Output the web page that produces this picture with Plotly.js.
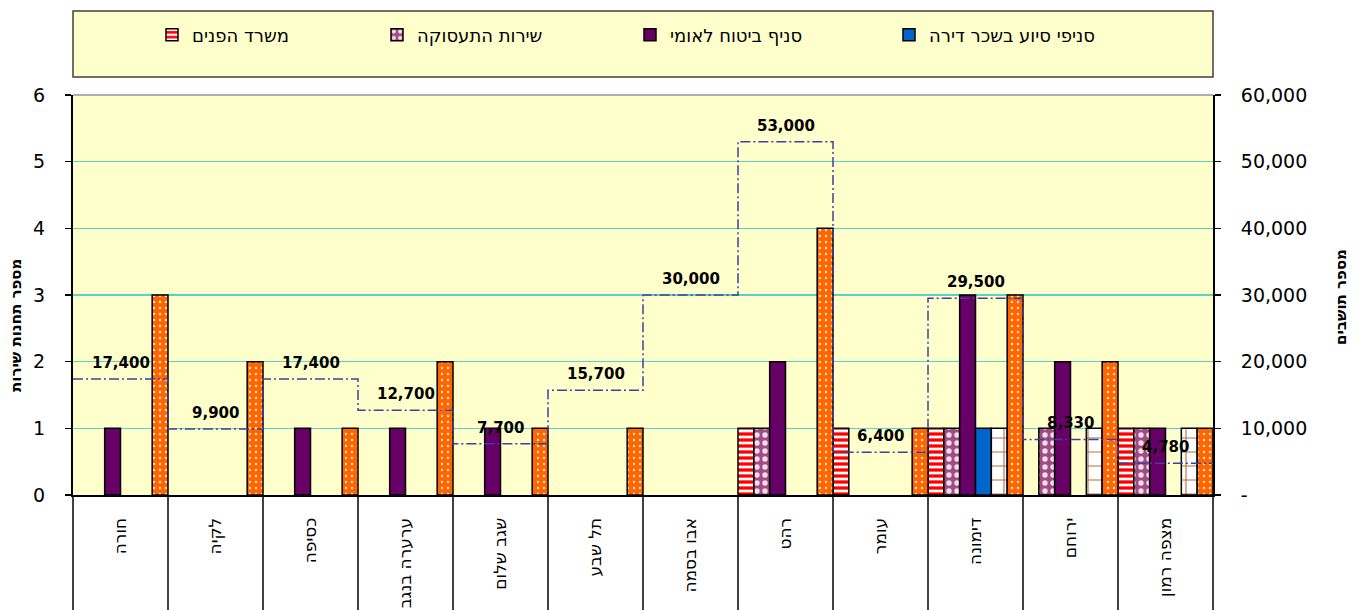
<!DOCTYPE html>
<html><head><meta charset="utf-8">
<script src="https://cdn.plot.ly/plotly-3.0.1.min.js"></script>
<style>body{margin:0;background:#fff}</style>
</head><body><div id="chart" style="width:1363px;height:610px"></div>
<script>
const towns = ['חורה','לקיה','כסיפה','ערערה בנגב','שגב שלום','תל שבע','אבו בסמה','רהט','עומר','דימונה','ירוחם','מצפה רמון'];
const interiorMinistry  = [null,null,null,null,null,null,null,1,1,1,null,1];
const employmentService = [null,null,null,null,null,null,null,1,null,1,1,1];
const nationalInsurance = [1,null,1,1,1,null,null,2,null,3,2,1];
const rentAssistance    = [null,null,null,null,null,null,null,null,null,1,null,null];
const series5           = [null,null,null,null,null,null,null,null,null,1,1,1];
const series6           = [3,2,1,2,1,1,null,4,1,3,2,1];
const residents = [17400,9900,17400,12700,7700,15700,30000,53000,6400,29500,8330,4780];
const leftTickVals = [0,1,2,3,4,5,6];
const rightTickVals = [0,10000,20000,30000,40000,50000,60000];
const rightTickText = ['-','10,000','20,000','30,000','40,000','50,000','60,000'];
const legendNames = ['משרד הפנים','שירות התעסוקה','סניף ביטוח לאומי','סניפי סיוע בשכר דירה'];

const FONT = 'DejaVu Sans, Arial, sans-serif';
const outline = {color:'#000', width:1.5};
function bar(name, y, color, pattern, legend, show){
  const t = {type:'bar', name:name, x:towns, y:y, legend:legend, showlegend:show,
    marker:{color:color, line:outline}, hoverinfo:'skip'};
  if(pattern) t.marker.pattern = pattern;
  return t;
}
const traces = [
  bar(legendNames[0], interiorMinistry, '#FF0000', {shape:'-', fgcolor:'#FF0000', bgcolor:'#FFFFFF', size:6, solidity:0.55}, 'legend', true),
  bar(legendNames[1], employmentService, '#A04C82', {shape:'.', fgcolor:'#F3DDEB', bgcolor:'#A04C82', size:8, solidity:0.35}, 'legend2', true),
  bar(legendNames[2], nationalInsurance, '#660066', null, 'legend3', true),
  bar(legendNames[3], rentAssistance, '#0066CC', null, 'legend4', true),
  bar('סדרה 5', series5, '#B86B3E', {shape:'+', fgcolor:'#B86B3E', bgcolor:'#FFFFFF', size:14, solidity:0.15}, 'legend', false),
  bar('סדרה 6', series6, '#FF6600', {shape:'.', fgcolor:'#FFE3C8', bgcolor:'#FF6600', size:6, solidity:0.12}, 'legend', false)
];

const stepX = residents.map((_,i)=>i).concat([residents.length]);
const stepY = residents.concat([residents[residents.length-1]]);
traces.push({type:'scatter', mode:'lines', x:stepX, y:stepY, xaxis:'x2', yaxis:'y2',
  line:{shape:'hv', color:'#3F3F9F', width:1.5, dash:'10px,3px,2px,3px'}, showlegend:false, hoverinfo:'skip'});

const annotations = residents.map((v,i)=>({x:i+0.5, y:v, xref:'x2', yref:'y2',
  text:v.toLocaleString('en-US'), showarrow:false, yshift:16,
  font:{family:FONT, size:15, color:'#000', weight:'bold'}}));
annotations.push({xref:'paper', yref:'paper', x:(5-73)/1140, y:(495-326)/400, text:'מספר תחנות שירות',
  textangle:-90, showarrow:false, font:{family:FONT, size:15, color:'#000', weight:'bold'}});
annotations.push({xref:'paper', yref:'paper', x:(1352-73)/1140, y:(495-297)/400, text:'מספר תושבים',
  textangle:-90, showarrow:false, font:{family:FONT, size:15, color:'#000', weight:'bold'}});

const shapes = [{type:'rect', xref:'paper', yref:'paper', x0:0, x1:1, y0:(495-77)/400, y1:(495-11)/400,
  fillcolor:'#FFFFCC', line:{color:'#404040', width:1.5}, layer:'below'},
  {type:'line', xref:'paper', yref:'paper', x0:0, x1:1, y0:1, y1:1, line:{color:'#8A9A9A', width:1.5}}];
for(let k=0;k<=towns.length;k++){
  shapes.push({type:'line', xref:'paper', yref:'paper', x0:k/towns.length, x1:k/towns.length, y0:0, y1:-0.3,
    line:{color:'#000', width:1.5}});
}

const legendTextStarts = [190, 415, 668, 927];
function lg(px){ return {x:(px-40+2-73)/1140, y:(495-35)/400, xanchor:'left', yanchor:'middle',
  orientation:'h', bgcolor:'rgba(0,0,0,0)', borderwidth:0, font:{family:FONT, size:18, color:'#000'}}; }

const layout = {
  width:1363, height:610, margin:{l:73, r:150, t:95, b:115},
  paper_bgcolor:'#FFFFFF', plot_bgcolor:'#FFFFCC',
  barmode:'group', bargap:0, bargroupgap:0,
  xaxis:{type:'category', categoryorder:'array', categoryarray:towns, range:[-0.5, towns.length-0.5],
    tickangle:-90, ticks:'', ticklabelstandoff:14, showline:true, linecolor:'#000', linewidth:2,
    tickfont:{family:FONT, size:17, color:'#000'}, showgrid:false, zeroline:false, fixedrange:true},
  xaxis2:{overlaying:'x', range:[0, towns.length], visible:false, fixedrange:true},
  yaxis:{range:[0,6], tickvals:leftTickVals, ticks:'outside', ticklen:6, tickcolor:'#000', tickwidth:1.5,
    ticklabelstandoff:16, showline:true, linecolor:'#000', linewidth:2, gridcolor:'#5ED1C6', gridwidth:1.5,
    zeroline:false, tickfont:{family:FONT, size:19, color:'#000'}, fixedrange:true},
  yaxis2:{overlaying:'y', side:'right', anchor:'x', range:[0,60000], tickvals:rightTickVals, ticktext:rightTickText,
    ticks:'outside', ticklen:6, tickcolor:'#000', tickwidth:1.5, ticklabelstandoff:16,
    showline:true, linecolor:'#000', linewidth:2, showgrid:false, zeroline:false,
    tickfont:{family:FONT, size:19, color:'#000'}, fixedrange:true},
  legend:lg(legendTextStarts[0]), legend2:lg(legendTextStarts[1]),
  legend3:lg(legendTextStarts[2]), legend4:lg(legendTextStarts[3]),
  annotations:annotations, shapes:shapes, showlegend:true
};
Plotly.newPlot('chart', traces, layout, {displayModeBar:false, staticPlot:true});
</script></body></html>
